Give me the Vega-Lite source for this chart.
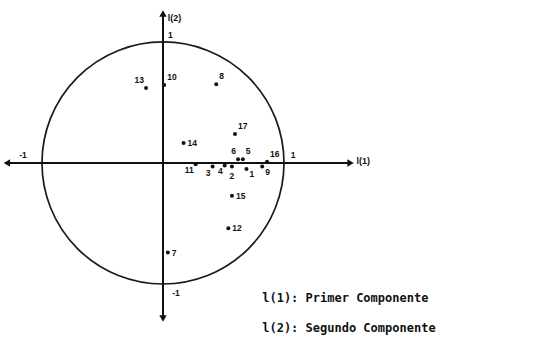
{
  "$schema": "https://vega.github.io/schema/vega-lite/v6.json",
  "width": 534,
  "height": 343,
  "autosize": "none",
  "padding": 0,
  "background": "white",
  "config": {"view": {"stroke": null}},
  "datasets": {
    "vars": [
      {"name": "13", "c1": -0.14, "c2": 0.62},
      {"name": "10", "c1": 0.01, "c2": 0.645},
      {"name": "8", "c1": 0.44, "c2": 0.65},
      {"name": "17", "c1": 0.595, "c2": 0.24},
      {"name": "14", "c1": 0.17, "c2": 0.165},
      {"name": "6", "c1": 0.62, "c2": 0.03},
      {"name": "5", "c1": 0.66, "c2": 0.03},
      {"name": "11", "c1": 0.27, "c2": -0.01},
      {"name": "3", "c1": 0.41, "c2": -0.03},
      {"name": "4", "c1": 0.51, "c2": -0.02},
      {"name": "2", "c1": 0.57, "c2": -0.03},
      {"name": "1", "c1": 0.69, "c2": -0.05},
      {"name": "9", "c1": 0.82, "c2": -0.03},
      {"name": "16", "c1": 0.86, "c2": 0.01},
      {"name": "15", "c1": 0.57, "c2": -0.27},
      {"name": "12", "c1": 0.54, "c2": -0.54},
      {"name": "7", "c1": 0.04, "c2": -0.74}
    ],
    "axes": [
      {"x": -1.3, "y": 0, "x2": 1.56, "y2": 0},
      {"x": 0, "y": 1.24, "x2": 0, "y2": -1.28}
    ],
    "arrows": [
      {"x": -1.29, "y": 0, "dir": "left"},
      {"x": 1.55, "y": 0, "dir": "right"},
      {"x": 0, "y": 1.235, "dir": "up"},
      {"x": 0, "y": -1.285, "dir": "down"}
    ],
    "ticks": [
      {"lab": "1", "x": 0, "y": 1, "at": "top"},
      {"lab": "-1", "x": -1, "y": 0, "at": "left"},
      {"lab": "1", "x": 1, "y": 0, "at": "right"},
      {"lab": "-1", "x": 0, "y": -1, "at": "bottom"}
    ],
    "titles": [
      {"lab": "l(1)", "x": 1.6, "y": 0.02},
      {"lab": "l(2)", "x": 0.04, "y": 1.2}
    ],
    "key": [
      {"lab": "l(1):  Primer  Componente", "x": 0.82, "y": -1.116},
      {"lab": "l(2):  Segundo  Componente", "x": 0.82, "y": -1.364}
    ]
  },
  "encoding": {
    "x": {"field": "c1", "type": "quantitative", "scale": {"domain": [-1.347, 3.066], "nice": false, "zero": false}, "axis": null},
    "y": {"field": "c2", "type": "quantitative", "scale": {"domain": [-1.488, 1.347], "nice": false, "zero": false}, "axis": null}
  },
  "layer": [
    {
      "data": {"values": [{"c1": 0, "c2": 0}]},
      "mark": {"type": "point", "shape": "circle", "filled": false, "size": 58564, "stroke": "#1a1a1a", "strokeWidth": 1.7, "opacity": 1}
    },
    {
      "data": {"name": "axes"},
      "mark": {"type": "rule", "color": "#111", "strokeWidth": 2},
      "encoding": {
        "x": {"field": "x", "type": "quantitative"},
        "y": {"field": "y", "type": "quantitative"},
        "x2": {"field": "x2"},
        "y2": {"field": "y2"}
      }
    },
    {
      "data": {"name": "arrows"},
      "mark": {"type": "point", "filled": true, "size": 55, "color": "#111", "opacity": 1},
      "encoding": {
        "x": {"field": "x", "type": "quantitative"},
        "y": {"field": "y", "type": "quantitative"},
        "shape": {"field": "dir", "type": "nominal", "scale": {"domain": ["left", "right", "up", "down"], "range": ["triangle-left", "triangle-right", "triangle-up", "triangle-down"]}, "legend": null}
      }
    },
    {
      "data": {"name": "vars"},
      "mark": {"type": "point", "filled": true, "size": 16, "color": "#111", "opacity": 1}
    },
    {
      "data": {"name": "vars"},
      "transform": [{"filter": {"field": "name", "oneOf": ["14", "15", "12", "7"]}}],
      "mark": {"type": "text", "font": "Liberation Sans", "fontWeight": "bold", "fontSize": 8.5, "align": "left", "baseline": "middle", "dx": 4, "color": "#111"},
      "encoding": {"text": {"field": "name"}}
    },
    {
      "data": {"name": "vars"},
      "transform": [{"filter": {"field": "name", "oneOf": ["10", "8", "17", "16", "5"]}}],
      "mark": {"type": "text", "font": "Liberation Sans", "fontWeight": "bold", "fontSize": 8.5, "align": "left", "baseline": "middle", "dx": 3, "dy": -8, "color": "#111"},
      "encoding": {"text": {"field": "name"}}
    },
    {
      "data": {"name": "vars"},
      "transform": [{"filter": {"field": "name", "oneOf": ["13", "6"]}}],
      "mark": {"type": "text", "font": "Liberation Sans", "fontWeight": "bold", "fontSize": 8.5, "align": "right", "baseline": "middle", "dx": -2, "dy": -8, "color": "#111"},
      "encoding": {"text": {"field": "name"}}
    },
    {
      "data": {"name": "vars"},
      "transform": [{"filter": {"field": "name", "oneOf": ["11", "3", "4"]}}],
      "mark": {"type": "text", "font": "Liberation Sans", "fontWeight": "bold", "fontSize": 8.5, "align": "right", "baseline": "middle", "dx": -2, "dy": 6, "color": "#111"},
      "encoding": {"text": {"field": "name"}}
    },
    {
      "data": {"name": "vars"},
      "transform": [{"filter": {"field": "name", "oneOf": ["2"]}}],
      "mark": {"type": "text", "font": "Liberation Sans", "fontWeight": "bold", "fontSize": 8.5, "align": "center", "baseline": "middle", "dy": 9, "color": "#111"},
      "encoding": {"text": {"field": "name"}}
    },
    {
      "data": {"name": "vars"},
      "transform": [{"filter": {"field": "name", "oneOf": ["1", "9"]}}],
      "mark": {"type": "text", "font": "Liberation Sans", "fontWeight": "bold", "fontSize": 8.5, "align": "left", "baseline": "middle", "dx": 3, "dy": 5, "color": "#111"},
      "encoding": {"text": {"field": "name"}}
    },
    {
      "data": {"name": "ticks"},
      "transform": [{"filter": {"field": "at", "oneOf": ["top"]}}],
      "mark": {"type": "text", "font": "Liberation Sans", "fontWeight": "bold", "fontSize": 8.5, "align": "left", "baseline": "middle", "dx": 5, "dy": -7, "color": "#111"},
      "encoding": {"x": {"field": "x", "type": "quantitative"}, "y": {"field": "y", "type": "quantitative"}, "text": {"field": "lab"}}
    },
    {
      "data": {"name": "ticks"},
      "transform": [{"filter": {"field": "at", "oneOf": ["left"]}}],
      "mark": {"type": "text", "font": "Liberation Sans", "fontWeight": "bold", "fontSize": 8.5, "align": "center", "baseline": "middle", "dx": -19, "dy": -8, "color": "#111"},
      "encoding": {"x": {"field": "x", "type": "quantitative"}, "y": {"field": "y", "type": "quantitative"}, "text": {"field": "lab"}}
    },
    {
      "data": {"name": "ticks"},
      "transform": [{"filter": {"field": "at", "oneOf": ["right"]}}],
      "mark": {"type": "text", "font": "Liberation Sans", "fontWeight": "bold", "fontSize": 8.5, "align": "center", "baseline": "middle", "dx": 9, "dy": -8, "color": "#111"},
      "encoding": {"x": {"field": "x", "type": "quantitative"}, "y": {"field": "y", "type": "quantitative"}, "text": {"field": "lab"}}
    },
    {
      "data": {"name": "ticks"},
      "transform": [{"filter": {"field": "at", "oneOf": ["bottom"]}}],
      "mark": {"type": "text", "font": "Liberation Sans", "fontWeight": "bold", "fontSize": 8.5, "align": "center", "baseline": "middle", "dx": 13, "dy": 9, "color": "#111"},
      "encoding": {"x": {"field": "x", "type": "quantitative"}, "y": {"field": "y", "type": "quantitative"}, "text": {"field": "lab"}}
    },
    {
      "data": {"name": "titles"},
      "mark": {"type": "text", "font": "Liberation Sans", "fontWeight": "bold", "fontSize": 9, "align": "left", "baseline": "middle", "color": "#111"},
      "encoding": {"x": {"field": "x", "type": "quantitative"}, "y": {"field": "y", "type": "quantitative"}, "text": {"field": "lab"}}
    },
    {
      "data": {"name": "key"},
      "mark": {"type": "text", "font": "DejaVu Sans Mono", "fontWeight": "bold", "fontSize": 12, "align": "left", "baseline": "middle", "color": "#111"},
      "encoding": {"x": {"field": "x", "type": "quantitative"}, "y": {"field": "y", "type": "quantitative"}, "text": {"field": "lab"}}
    }
  ]
}
